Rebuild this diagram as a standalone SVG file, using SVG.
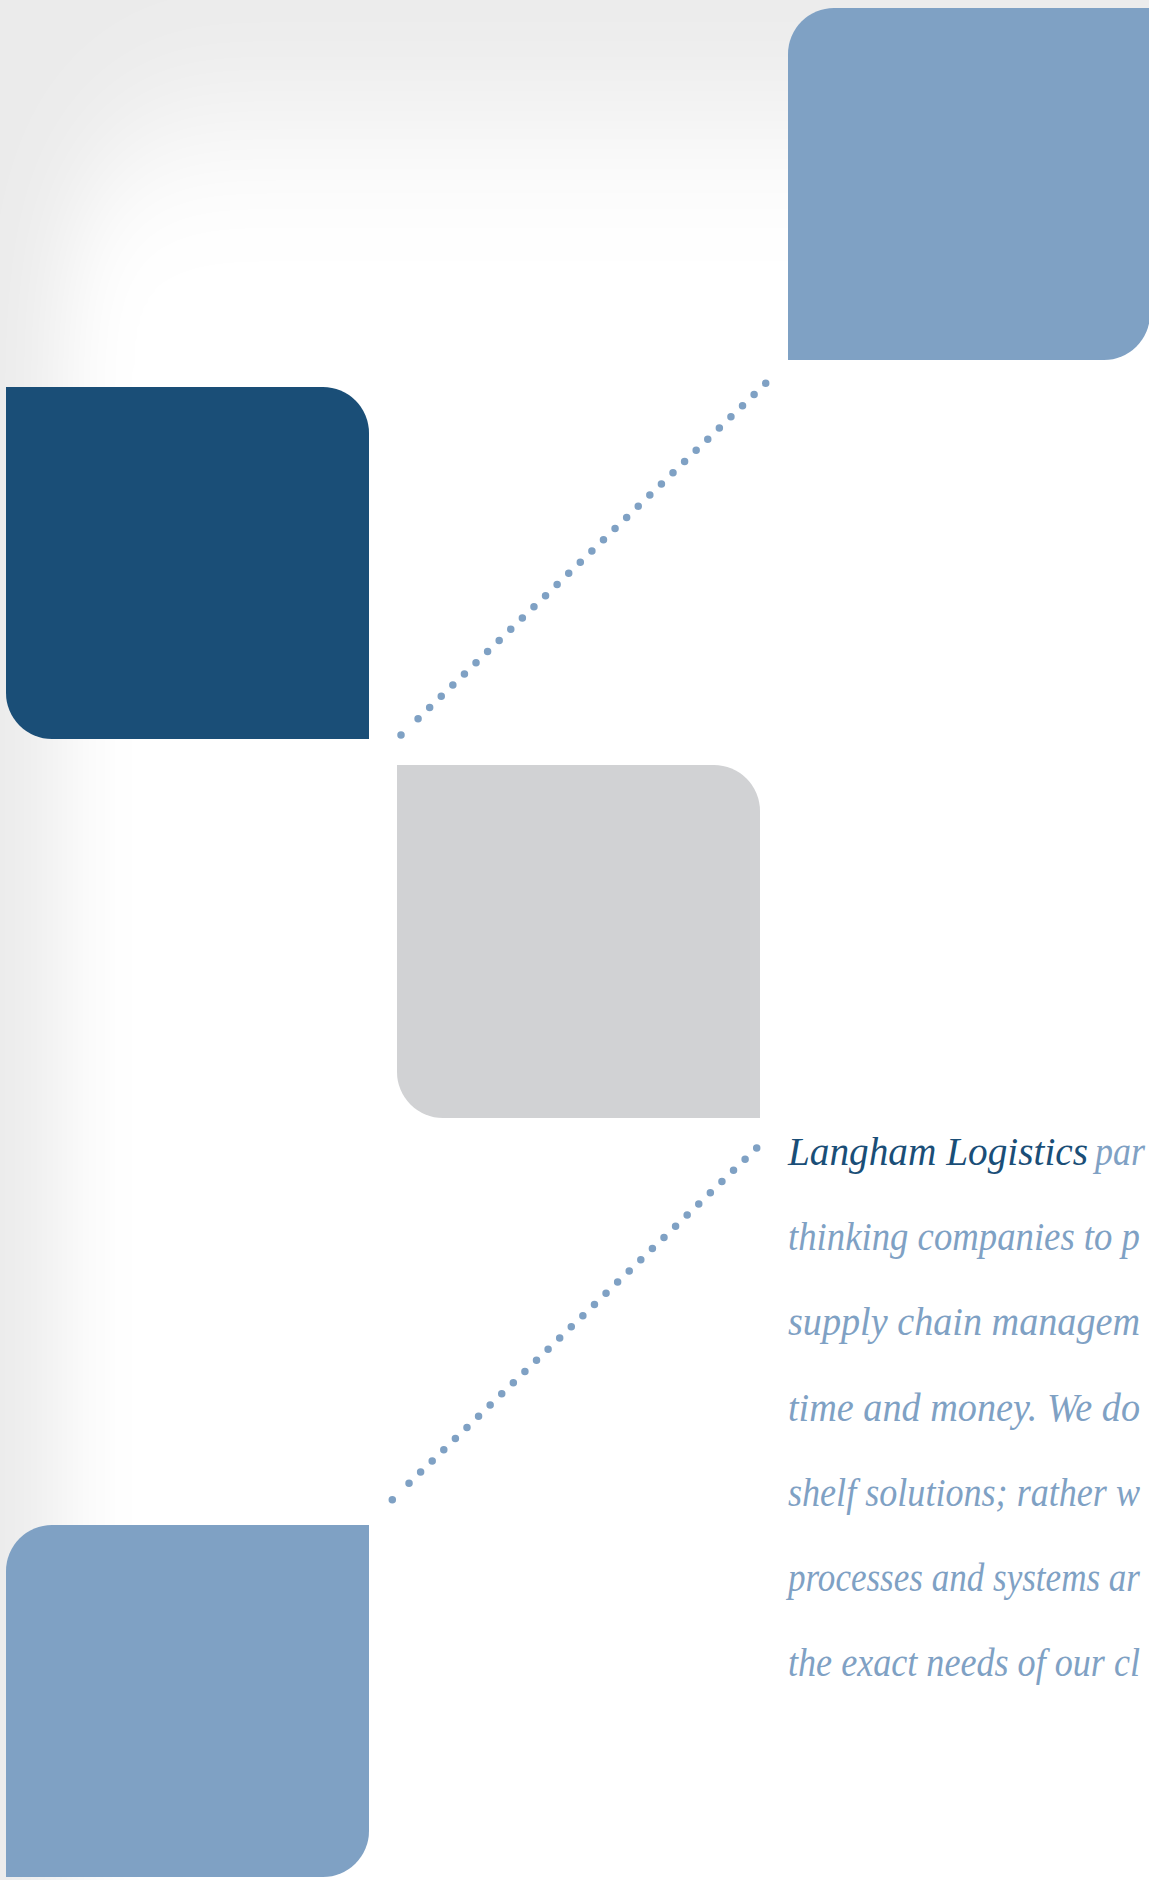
<svg xmlns="http://www.w3.org/2000/svg" width="1149" height="1880" viewBox="0 0 1149 1880">
<defs>
<style>
.light{fill:#7fa1c4}
.dark{fill:#1a4e77}
.grey{fill:#d1d2d4}
.dots{fill:none;stroke:#7fa1c4;stroke-width:7.5;stroke-linecap:round;stroke-dasharray:0 16.1}
.dot{fill:#7fa1c4}
.txt{font-family:"Liberation Serif","Times New Roman",serif;font-style:italic;font-size:41px;fill:#7fa1c4}
.hl{fill:#1a4e77}
</style>
<filter id="soft" x="-20%" y="-20%" width="140%" height="140%">
<feGaussianBlur stdDeviation="40 75"/>
</filter>
</defs>
<g id="background">
<rect x="0" y="0" width="1149" height="1880" fill="#ebebeb"/>
<rect x="60" y="125" width="1300" height="1900" rx="160" fill="#ffffff" filter="url(#soft)"/>
</g>
<g id="connectors">
<path class="dots" d="M765.7,383.3 L418,718.7"/>
<circle class="dot" cx="401" cy="735" r="3.75"/>
<path class="dots" d="M756.7,1148 L409,1483.3"/>
<circle class="dot" cx="392.3" cy="1499.7" r="3.75"/>
</g>
<g id="box-top-right">
<path class="light" d="M788,54 A46,46 0 0 1 834,8 H1150 V314 A46,46 0 0 1 1104,360 H788 Z"/>
</g>
<g id="box-dark">
<path class="dark" d="M6,387 H323 A46,46 0 0 1 369,433 V739 H52 A46,46 0 0 1 6,693 Z"/>
</g>
<g id="box-grey">
<path class="grey" d="M397,765 H714 A46,46 0 0 1 760,811 V1118 H443 A46,46 0 0 1 397,1072 Z"/>
</g>
<g id="box-bottom-left">
<path class="light" d="M6,1571 A46,46 0 0 1 52,1525 H369 V1831 A46,46 0 0 1 323,1877 H6 Z"/>
</g>
<g id="text">
<text class="txt hl" x="788" y="1165" textLength="300" lengthAdjust="spacingAndGlyphs">Langham Logistics</text>
<text class="txt" x="1095" y="1165" textLength="50" lengthAdjust="spacingAndGlyphs">par</text>
<text class="txt" x="788" y="1250" textLength="352" lengthAdjust="spacingAndGlyphs">thinking companies to p</text>
<text class="txt" x="788" y="1335" textLength="352" lengthAdjust="spacingAndGlyphs">supply chain managem</text>
<text class="txt" x="788" y="1421" textLength="352" lengthAdjust="spacingAndGlyphs">time and money. We do</text>
<text class="txt" x="788" y="1506" textLength="352" lengthAdjust="spacingAndGlyphs">shelf solutions; rather w</text>
<text class="txt" x="788" y="1591" textLength="352" lengthAdjust="spacingAndGlyphs">processes and systems ar</text>
<text class="txt" x="788" y="1676" textLength="352" lengthAdjust="spacingAndGlyphs">the exact needs of our cl</text>
</g>
</svg>
